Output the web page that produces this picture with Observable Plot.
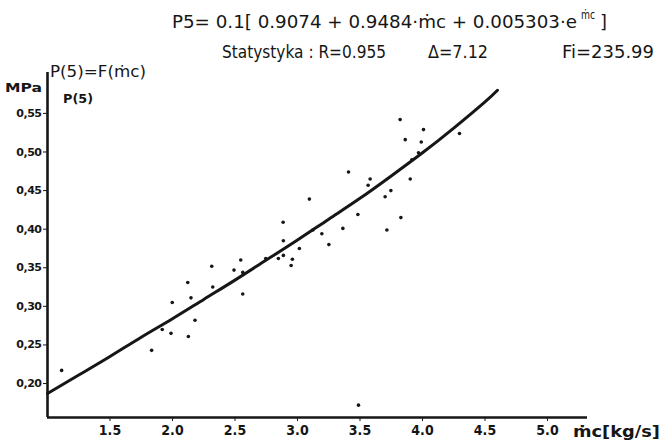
<!DOCTYPE html>
<html><head><meta charset="utf-8">
<script src="https://cdn.jsdelivr.net/npm/d3@7"></script>
<script src="https://cdn.jsdelivr.net/npm/@observablehq/plot@0.6"></script>
<style>
body{margin:0;background:#fff;}
#chart{position:relative;width:661px;height:443px;}
svg g[aria-label^="x-axis"] text{font:bold 14px "DejaVu Sans Condensed";fill:#151515;}
svg g[aria-label^="y-axis"] text{font:bold 11px "DejaVu Sans";fill:#151515;letter-spacing:-0.5px;}
</style></head><body><div id="chart"></div>
<script>
// scatter observations (mc in kg/s, P(5) in MPa)
const pointsM = [1.113,1.833,1.918,1.988,2.127,2.180,1.998,2.148,2.122,2.322,2.314,2.492,2.562,2.546,2.562,2.746,2.847,2.887,2.959,2.949,3.015,2.887,2.885,3.251,3.821,4.008,3.862,3.990,4.296,3.968,3.915,3.408,3.581,3.565,3.902,3.747,3.701,3.095,3.483,3.827,3.363,3.715,3.123,3.195,3.488];
const pointsP = [0.217,0.243,0.270,0.265,0.261,0.282,0.305,0.311,0.331,0.325,0.352,0.347,0.316,0.360,0.344,0.362,0.362,0.366,0.361,0.353,0.375,0.385,0.409,0.380,0.542,0.529,0.516,0.513,0.524,0.499,0.490,0.474,0.465,0.457,0.465,0.450,0.442,0.439,0.419,0.415,0.401,0.399,0.399,0.394,0.172];
// fitted curve
const curveM = [1.0,1.25,1.5,1.75,2.0,2.25,2.5,2.75,3.0,3.25,3.5,3.75,4.0,4.25,4.5,4.6];
const curveP = [0.187,0.211,0.235,0.260,0.284,0.309,0.334,0.360,0.386,0.413,0.440,0.469,0.499,0.531,0.565,0.580];
const xTicks = [1.5,2.0,2.5,3.0,3.5,4.0,4.5,5.0];
const xTickLabels = ["1.5","2.0","2.5","3.0","3.5","4.0","4.5","5.0"];
const yTicks = [0.20,0.25,0.30,0.35,0.40,0.45,0.50,0.55];
const yTickLabels = ["0,20","0,25","0,30","0,35","0,40","0,45","0,50","0,55"];
const xDomain = [1.0,5.32];
const yDomain = [0.156,0.603];

const points = pointsM.map((m,i)=>({m, p: pointsP[i]}));
const curve = curveM.map((m,i)=>({m, p: curveP[i]}));
const ink = "#161616";

const plot = Plot.plot({
  width:661, height:443,
  marginLeft:47, marginRight:74, marginTop:72, marginBottom:26,
  style:{background:"transparent", color:ink, fontFamily:"DejaVu Sans"},
  x:{domain:xDomain, ticks:xTicks, tickFormat:d=>xTickLabels[xTicks.indexOf(d)], label:null, tickSize:4, tickPadding:4},
  y:{domain:yDomain, ticks:yTicks, tickFormat:d=>yTickLabels[yTicks.indexOf(d)], label:null, tickSize:4, tickPadding:2},
  marks:[
    Plot.ruleX([xDomain[0]], {stroke:ink, strokeWidth:2.6}),
    Plot.ruleY([yDomain[0]], {stroke:ink, strokeWidth:2.6}),
    Plot.line(curve, {x:"m", y:"p", curve:"natural", stroke:ink, strokeWidth:3}),
    Plot.dot(points, {x:"m", y:"p", r:1.8, fill:ink, stroke:null})
  ]
});
document.getElementById("chart").appendChild(plot);

const svg = d3.select(plot);
const txt = (x, y, s, size, opts={}) => {
  const t = svg.append("text").attr("x", x).attr("y", y)
    .attr("text-anchor","start")
    .attr("font-family", opts.family || "DejaVu Sans")
    .attr("font-size", size).attr("font-weight", opts.weight || "normal")
    .attr("fill", ink).text(s);
  if (opts.len) t.attr("textLength", opts.len).attr("lengthAdjust", "spacingAndGlyphs");
  return t;
};
// title line 1 (exponent written as a separate superscript)
txt(172, 28, "P5= 0.1[ 0.9074 + 0.9484·ṁc + 0.005303·e", 18, {len:405});
txt(581, 19, "ṁc", 12, {len:14});
txt(600, 28, "]", 18, {len:7});
// line 2
txt(222, 58, "Statystyka : R=0.955", 18, {len:164});
txt(428, 58, "Δ=7.12", 17, {len:60});
txt(562, 58, "Fi=235.99", 17, {len:92});
// axis captions
txt(50, 77, "P(5)=F(ṁc)", 15, {len:96});
txt(5, 92, "MPa", 13, {weight:"bold", len:37});
txt(63, 103, "P(5)", 12, {weight:"bold", len:30});
txt(573, 437, "ṁc[kg/s]", 16, {weight:"bold", len:87, family:"DejaVu Sans Condensed"});
</script></body></html>
